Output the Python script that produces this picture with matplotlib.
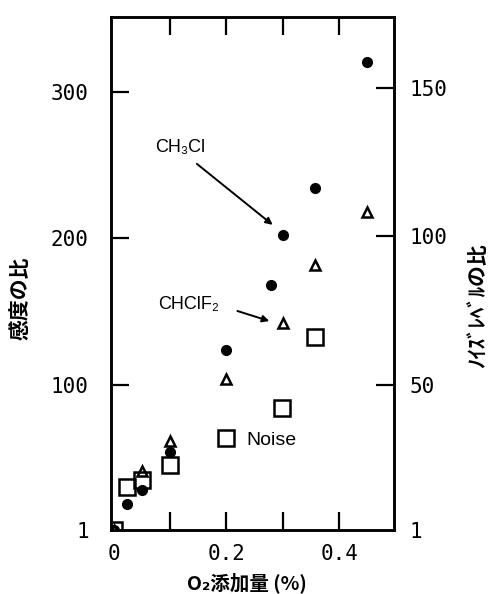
import matplotlib
matplotlib.use('Agg')
import matplotlib.pyplot as plt

# O2 addition (%) for each series
x_ch3cl = [0.0, 0.024, 0.05, 0.10, 0.20, 0.28, 0.30, 0.358, 0.449]
y_ch3cl = [1, 19, 28, 54, 124, 168, 202, 234, 320]

x_chclf2 = [0.0, 0.05, 0.10, 0.20, 0.30, 0.358, 0.449]
y_chclf2 = [1, 41, 62, 104, 142, 182, 218]

# noise level ratio (right axis)
x_noise = [0.0, 0.024, 0.05, 0.10, 0.20, 0.298, 0.357]
y_noise = [1, 15.6, 18, 23, 32, 42, 66]

x_ticks = [0, 0.1, 0.2, 0.3, 0.4]
x_ticklabels = ['0', '', '0.2', '', '0.4']
left_ticks = [1, 100, 200, 300]
right_ticks = [1, 50, 100, 150]

jp = ['Noto Sans CJK JP', 'DejaVu Sans']
latin = ['Liberation Sans', 'DejaVu Sans']
tickfont = 'DejaVu Sans Mono'

fig = plt.figure(figsize=(4.91, 5.94), dpi=100)
ax = fig.add_axes([0.226, 0.1077, 0.576, 0.8637])
ax2 = ax.twinx()

ax.plot(x_ch3cl, y_ch3cl, 'o', color='black', ms=7, zorder=3)
ax.plot(x_chclf2, y_chclf2, '^', mfc='white', mec='black', ms=7.5, mew=1.8, zorder=4)
ax2.plot(x_noise, y_noise, 's', mfc='none', mec='black', ms=11, mew=1.8, zorder=2)

ax.set_xlim(-0.0045, 0.497)
ax.set_ylim(1, 351)
ax2.set_ylim(1, 174)

ax.set_xticks(x_ticks)
ax.set_xticklabels(x_ticklabels, family=tickfont, fontsize=15)
ax.set_yticks(left_ticks)
ax.set_yticklabels([str(v) for v in left_ticks], family=tickfont, fontsize=15)
ax2.set_yticks(right_ticks)
ax2.set_yticklabels([str(v) for v in right_ticks], family=tickfont, fontsize=15)

ax.tick_params(axis='x', direction='in', length=13, width=1.6, top=True, pad=10)
ax.tick_params(axis='y', direction='in', length=13, width=1.6, pad=16)
ax2.tick_params(axis='y', direction='in', length=13, width=1.6, pad=11)
# ticks sitting on the corner are not drawn
for t in (ax.xaxis.get_major_ticks()[0], ax.yaxis.get_major_ticks()[0],
          ax2.yaxis.get_major_ticks()[0]):
    t.tick1line.set_visible(False)
    t.tick2line.set_visible(False)
for a in (ax, ax2):
    for s in a.spines.values():
        s.set_linewidth(1.8)

# annotations
ax.text(0.0735, 262, 'CH₃Cl', family=latin, fontsize=13, va='center')
ax.annotate('', xy=(0.286, 208), xytext=(0.144, 252),
            arrowprops=dict(arrowstyle='-|>', color='black', lw=1.4, mutation_scale=10))
ax.text(0.079, 155, 'CHClF₂', family=latin, fontsize=13, va='center')
ax.annotate('', xy=(0.281, 143), xytext=(0.215, 151),
            arrowprops=dict(arrowstyle='-|>', color='black', lw=1.4, mutation_scale=10))
ax.text(0.236, 62, 'Noise', family=latin, fontsize=14, va='center')

fig.text(0.503, 0.019, 'O₂添加量 (%)', family=jp, fontsize=14, fontweight='bold',
         ha='center', va='center')
fig.text(0.04, 0.498, '感度の比', family=jp, fontsize=15, fontweight='bold',
         rotation=90, ha='center', va='center')
fig.text(0.973, 0.485, 'ﾉｲｽﾞﾚﾍﾞﾙの比', family=jp, fontsize=15, fontweight='bold',
         rotation=90, ha='center', va='center')

fig.savefig('out.png', dpi=100)
